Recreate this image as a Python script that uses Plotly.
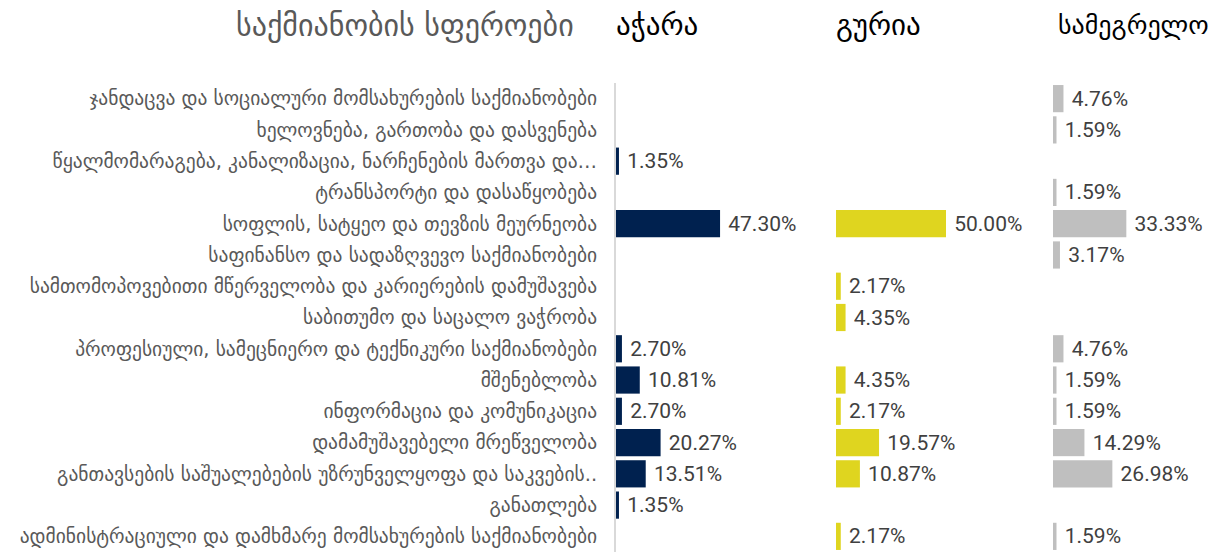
import plotly.graph_objects as go

W, H = 1220, 560
OFF = 8  # default body margin of the html page
FW, FH = W - 2 * OFF, H - 2 * OFF  # figure fits the window without overflow

categories = [
    "ჯანდაცვა და სოციალური მომსახურების საქმიანობები",
    "ხელოვნება, გართობა და დასვენება",
    "წყალმომარაგება, კანალიზაცია, ნარჩენების მართვა და…",
    "ტრანსპორტი და დასაწყობება",
    "სოფლის, სატყეო და თევზის მეურნეობა",
    "საფინანსო და სადაზღვევო საქმიანობები",
    "სამთომოპოვებითი მწერველობა და კარიერების დამუშავება",
    "საბითუმო და საცალო ვაჭრობა",
    "პროფესიული, სამეცნიერო და ტექნიკური საქმიანობები",
    "მშენებლობა",
    "ინფორმაცია და კომუნიკაცია",
    "დამამუშავებელი მრეწველობა",
    "განთავსების საშუალებების უზრუნველყოფა და საკვების..",
    "განათლება",
    "ადმინისტრაციული და დამხმარე მომსახურების საქმიანობები",
]

adjara = [None, None, 1.35, None, 47.30, None, None, None, 2.70, 10.81, 2.70, 20.27, 13.51, 1.35, None]
guria = [None, None, None, None, 50.00, None, 2.17, 4.35, None, 4.35, 2.17, 19.57, 10.87, None, 2.17]
samegrelo = [4.76, 1.59, None, 1.59, 33.33, 3.17, None, None, 4.76, 1.59, 1.59, 14.29, 26.98, None, 1.59]

regions = ["აჭარა", "გურია", "სამეგრელო"]
colors = ["#00214F", "#DFD51F", "#BFBFBF"]
series = [adjara, guria, samegrelo]

GEO = "DejaVu Sans"
NUM = "Roboto"


def px_x(px):
    return (px - OFF) / FW


def px_y(py):
    return (H - OFF - py) / FH


# panel layout in page pixels: left edge of each panel and px per percent
starts = [616, 836, 1053]
scale = 2.2
y_top, y_bot = 83, 552

fig = go.Figure()
for i, (vals, col) in enumerate(zip(series, colors)):
    ax = "x" if i == 0 else f"x{i+1}"
    fig.add_trace(go.Bar(
        y=categories, x=vals, orientation="h",
        marker_color=col, marker_line_width=0,
        text=[f"\u00a0{v:.2f}%" if v is not None else "" for v in vals],
        textposition="outside", cliponaxis=False,
        textfont=dict(family=NUM, size=21, color="#404040"),
        xaxis=ax, yaxis="y", showlegend=False,
        hovertemplate="%{y}: %{x:.2f}%<extra></extra>",
    ))

layout = dict(
    width=FW, height=FH,
    margin=dict(l=0, r=0, t=0, b=0, autoexpand=False),
    paper_bgcolor="white", plot_bgcolor="white",
    bargap=0.13,
    yaxis=dict(
        domain=[px_y(y_bot), px_y(y_top)],
        autorange="reversed", anchor="x", automargin=False,
        showline=True, linecolor="#D9D9D9", linewidth=2,
        showgrid=False, ticks="", ticklabelstandoff=13,
        tickfont=dict(family=GEO, size=19.5, color="#595959"),
    ),
)
for i, s in enumerate(starts):
    end = min(s + 100 * scale, W - OFF)
    key = "xaxis" if i == 0 else f"xaxis{i+1}"
    layout[key] = dict(
        domain=[px_x(s), px_x(end)],
        range=[0, (end - s) / scale],
        visible=False, anchor="y", automargin=False,
    )
fig.update_layout(**layout)

fig.add_annotation(
    text="საქმიანობის სფეროები", x=px_x(576), y=px_y(25),
    xref="paper", yref="paper", xanchor="right", yanchor="middle",
    showarrow=False, font=dict(family=GEO, size=30, color="#595959"),
)
for s, name, sz in zip([614, 834, 1056], regions, [29, 29, 26]):
    fig.add_annotation(
        text=name, x=px_x(s), y=px_y(25),
        xref="paper", yref="paper", xanchor="left", yanchor="middle",
        showarrow=False, font=dict(family=GEO, size=sz, color="#000000"),
    )

fig.write_html("out.html", config={"displayModeBar": False})
